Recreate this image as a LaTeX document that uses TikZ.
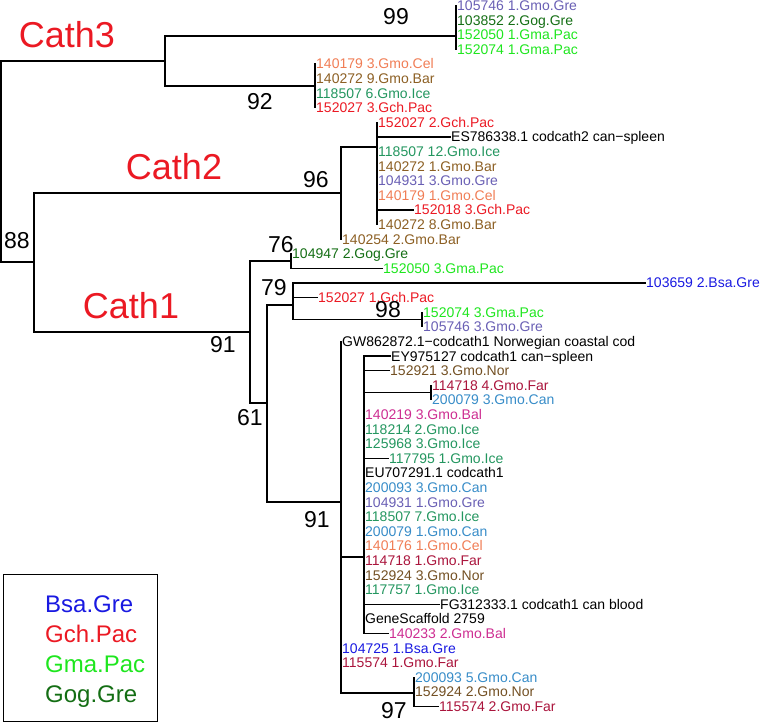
\documentclass[tikz,border=0pt]{standalone}
\usepackage{fontspec}
\setmainfont{Liberation Sans}
\usepackage{xcolor}
\definecolor{gmogre}{RGB}{105,95,180}
\definecolor{goggre}{RGB}{20,110,20}
\definecolor{gmapac}{RGB}{30,230,30}
\definecolor{gmocel}{RGB}{240,125,85}
\definecolor{gmobar}{RGB}{140,95,35}
\definecolor{gmoice}{RGB}{35,150,95}
\definecolor{gchpac}{RGB}{235,25,35}
\definecolor{bsagre}{RGB}{25,25,225}
\definecolor{gmonor}{RGB}{115,80,35}
\definecolor{gmofar}{RGB}{170,20,60}
\definecolor{gmocan}{RGB}{55,140,200}
\definecolor{gmobal}{RGB}{205,45,145}

\begin{document}
\begin{tikzpicture}[x=1pt,y=-1pt,
  branch/.style={line width=1.3pt, black},
  leaf/.style={anchor=west, inner sep=0pt, text height=10pt, text depth=0pt, font=\fontsize{14}{16}\selectfont},
  boot/.style={inner sep=0pt, font=\fontsize{23}{26}\selectfont},
  clade/.style={inner sep=0pt, text=gchpac, font=\fontsize{36}{40}\selectfont},
  key/.style={anchor=west, inner sep=0pt, text height=17pt, text depth=0pt, font=\fontsize{24}{28}\selectfont}]
\path[use as bounding box] (0,0) rectangle (761,722);

% inner nodes of the tree
\coordinate (nRoot) at (1,160);
\coordinate (nC3) at (165,61);
\coordinate (nC3a) at (456,36);
\coordinate (nC3b) at (315,86);
\coordinate (nC12) at (34,262);
\coordinate (nC2) at (341,193);
\coordinate (nC2a) at (377,147);
\coordinate (nC1) at (250,332);
\coordinate (n76) at (291,261);
\coordinate (n61) at (267,403);
\coordinate (n79) at (293,305);
\coordinate (n98) at (422,319.5);
\coordinate (n91) at (341,502);
\coordinate (nIn) at (364,557);
\coordinate (nFar) at (431,392.5);
\coordinate (n97) at (414,693);

% leaves
\node[leaf, text=gmogre] (lf0) at (457,5.6) {105746 1.Gmo.Gre};
\node[leaf, text=goggre] (lf1) at (457,20.2) {103852 2.Gog.Gre};
\node[leaf, text=gmapac] (lf2) at (457,34.8) {152050 1.Gma.Pac};
\node[leaf, text=gmapac] (lf3) at (457,49.4) {152074 1.Gma.Pac};
\node[leaf, text=gmocel] (lf4) at (316,64.0) {140179 3.Gmo.Cel};
\node[leaf, text=gmobar] (lf5) at (316,78.6) {140272 9.Gmo.Bar};
\node[leaf, text=gmoice] (lf6) at (316,93.2) {118507 6.Gmo.Ice};
\node[leaf, text=gchpac] (lf7) at (316,107.8) {152027 3.Gch.Pac};
\node[leaf, text=gchpac] (lf8) at (378,122.4) {152027 2.Gch.Pac};
\node[leaf] (lf9) at (451,137.0) {ES786338.1 codcath2 can−spleen};
\node[leaf, text=gmoice] (lf10) at (378,151.6) {118507 12.Gmo.Ice};
\node[leaf, text=gmobar] (lf11) at (378,166.2) {140272 1.Gmo.Bar};
\node[leaf, text=gmogre] (lf12) at (378,180.8) {104931 3.Gmo.Gre};
\node[leaf, text=gmocel] (lf13) at (378,195.4) {140179 1.Gmo.Cel};
\node[leaf, text=gchpac] (lf14) at (414,210.0) {152018 3.Gch.Pac};
\node[leaf, text=gmobar] (lf15) at (378,224.6) {140272 8.Gmo.Bar};
\node[leaf, text=gmobar] (lf16) at (342,239.2) {140254 2.Gmo.Bar};
\node[leaf, text=goggre] (lf17) at (292,253.8) {104947 2.Gog.Gre};
\node[leaf, text=gmapac] (lf18) at (383,268.4) {152050 3.Gma.Pac};
\node[leaf, text=bsagre] (lf19) at (646,283.0) {103659 2.Bsa.Gre};
\node[leaf, text=gchpac] (lf20) at (318,297.6) {152027 1.Gch.Pac};
\node[leaf, text=gmapac] (lf21) at (423,312.2) {152074 3.Gma.Pac};
\node[leaf, text=gmogre] (lf22) at (423,326.8) {105746 3.Gmo.Gre};
\node[leaf] (lf23) at (342,341.4) {GW862872.1−codcath1 Norwegian coastal cod};
\node[leaf] (lf24) at (391,356.0) {EY975127 codcath1 can−spleen};
\node[leaf, text=gmonor] (lf25) at (390,370.6) {152921 3.Gmo.Nor};
\node[leaf, text=gmofar] (lf26) at (432,385.2) {114718 4.Gmo.Far};
\node[leaf, text=gmocan] (lf27) at (432,399.8) {200079 3.Gmo.Can};
\node[leaf, text=gmobal] (lf28) at (365,414.4) {140219 3.Gmo.Bal};
\node[leaf, text=gmoice] (lf29) at (365,429.0) {118214 2.Gmo.Ice};
\node[leaf, text=gmoice] (lf30) at (365,443.6) {125968 3.Gmo.Ice};
\node[leaf, text=gmoice] (lf31) at (389,458.2) {117795 1.Gmo.Ice};
\node[leaf] (lf32) at (365,472.8) {EU707291.1 codcath1};
\node[leaf, text=gmocan] (lf33) at (365,487.4) {200093 3.Gmo.Can};
\node[leaf, text=gmogre] (lf34) at (365,502.0) {104931 1.Gmo.Gre};
\node[leaf, text=gmoice] (lf35) at (365,516.6) {118507 7.Gmo.Ice};
\node[leaf, text=gmocan] (lf36) at (365,531.2) {200079 1.Gmo.Can};
\node[leaf, text=gmocel] (lf37) at (365,545.8) {140176 1.Gmo.Cel};
\node[leaf, text=gmofar] (lf38) at (365,560.4) {114718 1.Gmo.Far};
\node[leaf, text=gmonor] (lf39) at (365,575.0) {152924 3.Gmo.Nor};
\node[leaf, text=gmoice] (lf40) at (365,589.6) {117757 1.Gmo.Ice};
\node[leaf] (lf41) at (440,604.2) {FG312333.1 codcath1 can blood};
\node[leaf] (lf42) at (365,618.8) {GeneScaffold 2759};
\node[leaf, text=gmobal] (lf43) at (389,633.4) {140233 2.Gmo.Bal};
\node[leaf, text=bsagre] (lf44) at (342,648.0) {104725 1.Bsa.Gre};
\node[leaf, text=gmofar] (lf45) at (342,662.6) {115574 1.Gmo.Far};
\node[leaf, text=gmocan] (lf46) at (415,677.2) {200093 5.Gmo.Can};
\node[leaf, text=gmonor] (lf47) at (415,691.8) {152924 2.Gmo.Nor};
\node[leaf, text=gmofar] (lf48) at (439,706.4) {115574 2.Gmo.Far};

% branches
\draw[branch] (nRoot) |- (nC3) (nRoot) |- (nC12);
\draw[branch] (nC3) |- (nC3a) (nC3) |- (nC3b);
\draw[branch] (nC3a) |- (lf0.west) (nC3a) |- (lf1.west) (nC3a) |- (lf2.west) (nC3a) |- (lf3.west);
\draw[branch] (nC3b) |- (lf4.west) (nC3b) |- (lf5.west) (nC3b) |- (lf6.west) (nC3b) |- (lf7.west);
\draw[branch] (nC12) |- (nC2) (nC12) |- (nC1);
\draw[branch] (nC2) |- (nC2a) (nC2) |- (lf16.west);
\draw[branch] (nC2a) |- (lf8.west) (nC2a) |- (lf9.west) (nC2a) |- (lf10.west) (nC2a) |- (lf11.west)
  (nC2a) |- (lf12.west) (nC2a) |- (lf13.west) (nC2a) |- (lf14.west) (nC2a) |- (lf15.west);
\draw[branch] (nC1) |- (n76) (nC1) |- (n61);
\draw[branch] (n76) |- (lf17.west) (n76) |- (lf18.west);
\draw[branch] (n61) |- (n79) (n61) |- (n91);
\draw[branch] (n79) |- (lf19.west) (n79) |- (lf20.west) (n79) |- (n98);
\draw[branch] (n98) |- (lf21.west) (n98) |- (lf22.west);
\draw[branch] (n91) |- (lf23.west) (n91) |- (nIn) (n91) |- (lf44.west) (n91) |- (lf45.west) (n91) |- (n97);
\draw[branch] (nIn) |- (lf24.west) (nIn) |- (lf25.west) (nIn) |- (nFar) (nIn) |- (lf28.west)
  (nIn) |- (lf29.west) (nIn) |- (lf30.west) (nIn) |- (lf31.west) (nIn) |- (lf32.west)
  (nIn) |- (lf33.west) (nIn) |- (lf34.west) (nIn) |- (lf35.west) (nIn) |- (lf36.west)
  (nIn) |- (lf37.west) (nIn) |- (lf38.west) (nIn) |- (lf39.west) (nIn) |- (lf40.west)
  (nIn) |- (lf41.west) (nIn) |- (lf42.west) (nIn) |- (lf43.west);
\draw[branch] (nFar) |- (lf26.west) (nFar) |- (lf27.west);
\draw[branch] (n97) |- (lf46.west) (n97) |- (lf47.west) (n97) |- (lf48.west);

% bootstrap values
\node[boot] (b99) at (396,17) {99};
\node[boot] (b92) at (260,102) {92};
\node[boot] (b96) at (316,180) {96};
\node[boot] (b88) at (17,241) {88};
\node[boot] (b76) at (281,245) {76};
\node[boot] (b79) at (274,288) {79};
\node[boot] (b98) at (388,310) {98};
\node[boot] (b91a) at (223,345) {91};
\node[boot] (b61) at (250,418) {61};
\node[boot] (b91b) at (317,520) {91};
\node[boot] (b97) at (394,711) {97};

% clade names
\node[clade] (cath3) at (67,35) {Cath3};
\node[clade] (cath2) at (174,167) {Cath2};
\node[clade] (cath1) at (131,306) {Cath1};

% legend
\node[draw, line width=1.2pt, anchor=north west, inner sep=0pt, minimum width=154pt, minimum height=147pt] (legend) at (3,574) {};
\node[key, text=bsagre] (kBsa) at (45,604) {Bsa.Gre};
\node[key, text=gchpac] (kGch) at (45,633.5) {Gch.Pac};
\node[key, text=gmapac] (kGma) at (45,663.5) {Gma.Pac};
\node[key, text=goggre] (kGog) at (45,693.5) {Gog.Gre};
\end{tikzpicture}
\end{document}
